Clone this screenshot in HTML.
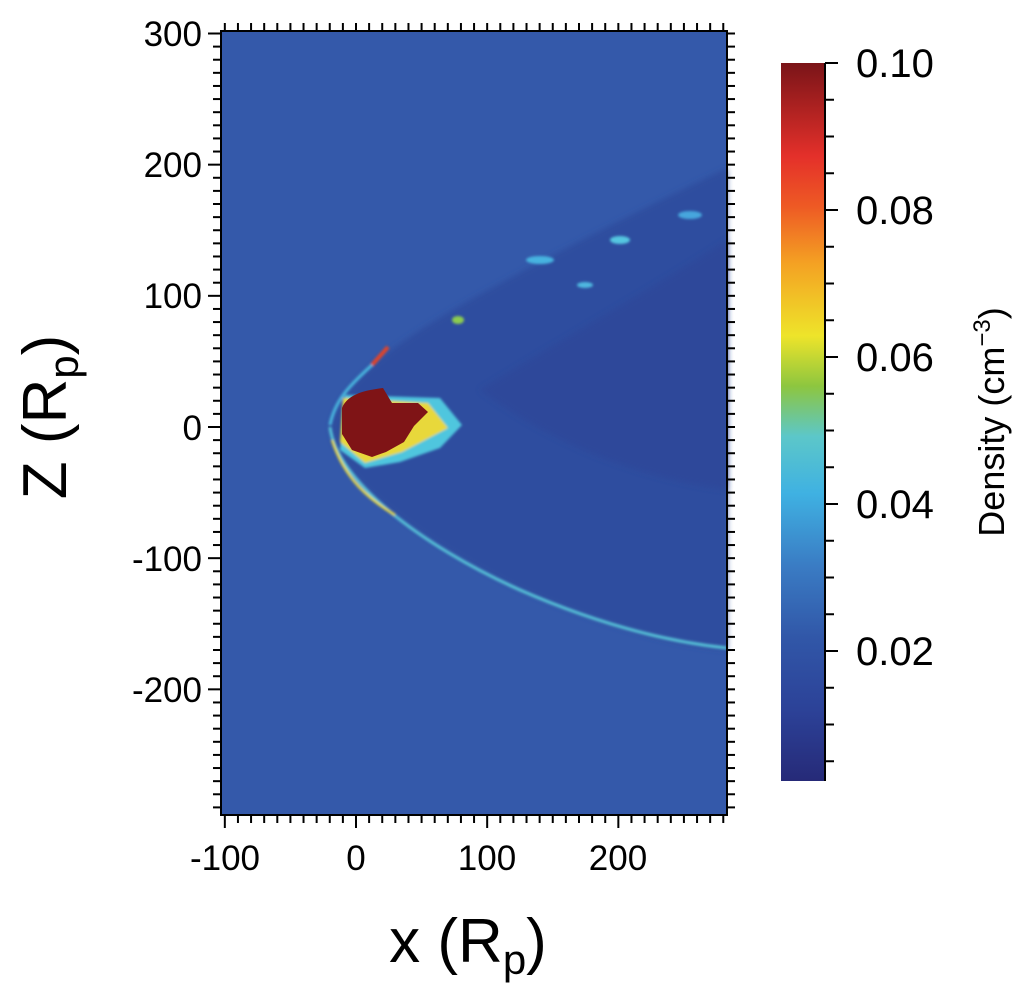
<!DOCTYPE html>
<html><head><style>
html,body{margin:0;padding:0;background:#fff;}
svg{display:block;}
text{font-family:"Liberation Sans",sans-serif;fill:#000;}
</style></head><body>
<svg width="1024" height="994" viewBox="0 0 1024 994" xmlns="http://www.w3.org/2000/svg">
<defs>
<linearGradient id="cb" x1="0" y1="1" x2="0" y2="0">
<stop offset="0" stop-color="#262a78"/>
<stop offset="0.1" stop-color="#2c4298"/>
<stop offset="0.2" stop-color="#3157a8"/>
<stop offset="0.3" stop-color="#3a7cc4"/>
<stop offset="0.4" stop-color="#3fb1e2"/>
<stop offset="0.48" stop-color="#5cc7c9"/>
<stop offset="0.55" stop-color="#8dc63f"/>
<stop offset="0.62" stop-color="#eee42a"/>
<stop offset="0.72" stop-color="#f4a223"/>
<stop offset="0.8" stop-color="#ee5a24"/>
<stop offset="0.87" stop-color="#e4302a"/>
<stop offset="1" stop-color="#7a1418"/>
</linearGradient>
<filter id="bl"><feGaussianBlur stdDeviation="3"/></filter>
<filter id="bl2"><feGaussianBlur stdDeviation="1.2"/></filter>
</defs>
<rect x="221" y="31" width="506" height="784" fill="#3459aa"/>
<path d="M727,168 C640,210 560,250 470,300 C400,340 340,380 330,427 C335,480 420,540 520,590 C600,625 670,645 727,650 Z" fill="#2f4d9f" filter="url(#bl)"/>
<path d="M727,240 C650,290 560,340 480,390 C560,450 650,480 727,490 Z" fill="#2d4699" filter="url(#bl)" opacity="0.7"/>
<g filter="url(#bl2)">
<path d="M330,427 C336,480 420,545 520,590 C600,625 670,642 727,648" fill="none" stroke="#57c3d8" stroke-width="3"/>
<path d="M332,440 C345,480 370,500 395,515" fill="none" stroke="#e8d83a" stroke-width="2.5"/>
<path d="M372,365 L388,347" stroke="#e0442a" stroke-width="4"/>
<path d="M330,425 C335,400 350,385 372,365" fill="none" stroke="#4ab8df" stroke-width="3"/>
<ellipse cx="540" cy="260" rx="14" ry="4" fill="#47b3e0"/>
<ellipse cx="620" cy="240" rx="10" ry="4" fill="#55c6e0"/>
<ellipse cx="585" cy="285" rx="8" ry="3" fill="#4fb8e0"/>
<ellipse cx="458" cy="320" rx="6" ry="4" fill="#8ccc50"/>
<ellipse cx="690" cy="215" rx="12" ry="4" fill="#46a6dd"/>
<path d="M345,395 L440,398 L462,425 L440,448 L400,462 L365,468 L340,450 Z" fill="#4fc6de"/>
<path d="M343,398 L428,403 L448,428 L402,452 L365,463 L340,442 Z" fill="#e8d83a"/>
</g>
<path d="M342,408 C348,393 368,390 383,388 L392,403 L418,403 L428,412 L414,426 L404,442 L386,452 L372,457 L352,450 L342,434 Z" fill="#7f1416"/>
<rect x="221" y="31" width="506" height="784" fill="none" stroke="#000" stroke-width="2"/>
<g stroke="#000" stroke-width="2" id="ticks"></g>
<rect x="781" y="63" width="44" height="718" fill="url(#cb)"/>
<line x1="825" y1="63" x2="825" y2="781" stroke="#000" stroke-width="2"/>
<g stroke="#000" stroke-width="2" id="cbt"></g>
<g font-size="35" text-anchor="end">
<text x="202" y="46">300</text>
<text x="202" y="177">200</text>
<text x="202" y="308">100</text>
<text x="202" y="440">0</text>
<text x="202" y="571">-100</text>
<text x="202" y="702">-200</text>
</g>
<g font-size="35" text-anchor="middle">
<text x="225" y="870">-100</text>
<text x="356" y="870">0</text>
<text x="487" y="870">100</text>
<text x="618" y="870">200</text>
</g>
<g font-size="40">
<text x="856" y="77">0.10</text>
<text x="856" y="224">0.08</text>
<text x="856" y="371">0.06</text>
<text x="856" y="518">0.04</text>
<text x="856" y="665">0.02</text>
</g>
<text x="468" y="962" font-size="62" text-anchor="middle">x (R<tspan font-size="42" dy="12">p</tspan><tspan dy="-12">)</tspan></text>
<text transform="translate(66,417) rotate(-90)" font-size="62" text-anchor="middle">Z (R<tspan font-size="42" dy="12">p</tspan><tspan dy="-12">)</tspan></text>
<text transform="translate(1004,422) rotate(-90)" font-size="36" text-anchor="middle">Density (cm<tspan font-size="24" dy="-14">−3</tspan><tspan dy="14">)</tspan></text>
</svg>
<script>
var ns="http://www.w3.org/2000/svg",g=document.getElementById("ticks");
function L(a,b,c,d,p){var l=document.createElementNS(ns,"line");l.setAttribute("x1",a);l.setAttribute("y1",b);l.setAttribute("x2",c);l.setAttribute("y2",d);(p||g).appendChild(l);}
var s=1.3117;
for(var v=-290;v<=300;v+=10){var y=427-v*s;if(y<31||y>815)continue;var maj=(v%100===0);L(maj?208:213,y,221,y);L(727,y,735,y);}
for(var v=-100;v<=280;v+=10){var x=356+v*s;if(x<221||x>727)continue;var maj=(v%100===0);L(x,815,x,maj?828:823);L(x,23,x,31);}
var c=document.getElementById("cbt");
for(var k=0;k<=19;k++){var y=63+k*36.75;if(y>781)break;L(825,y,k%4===0?838:834,y,c);}
</script>
</body></html>
